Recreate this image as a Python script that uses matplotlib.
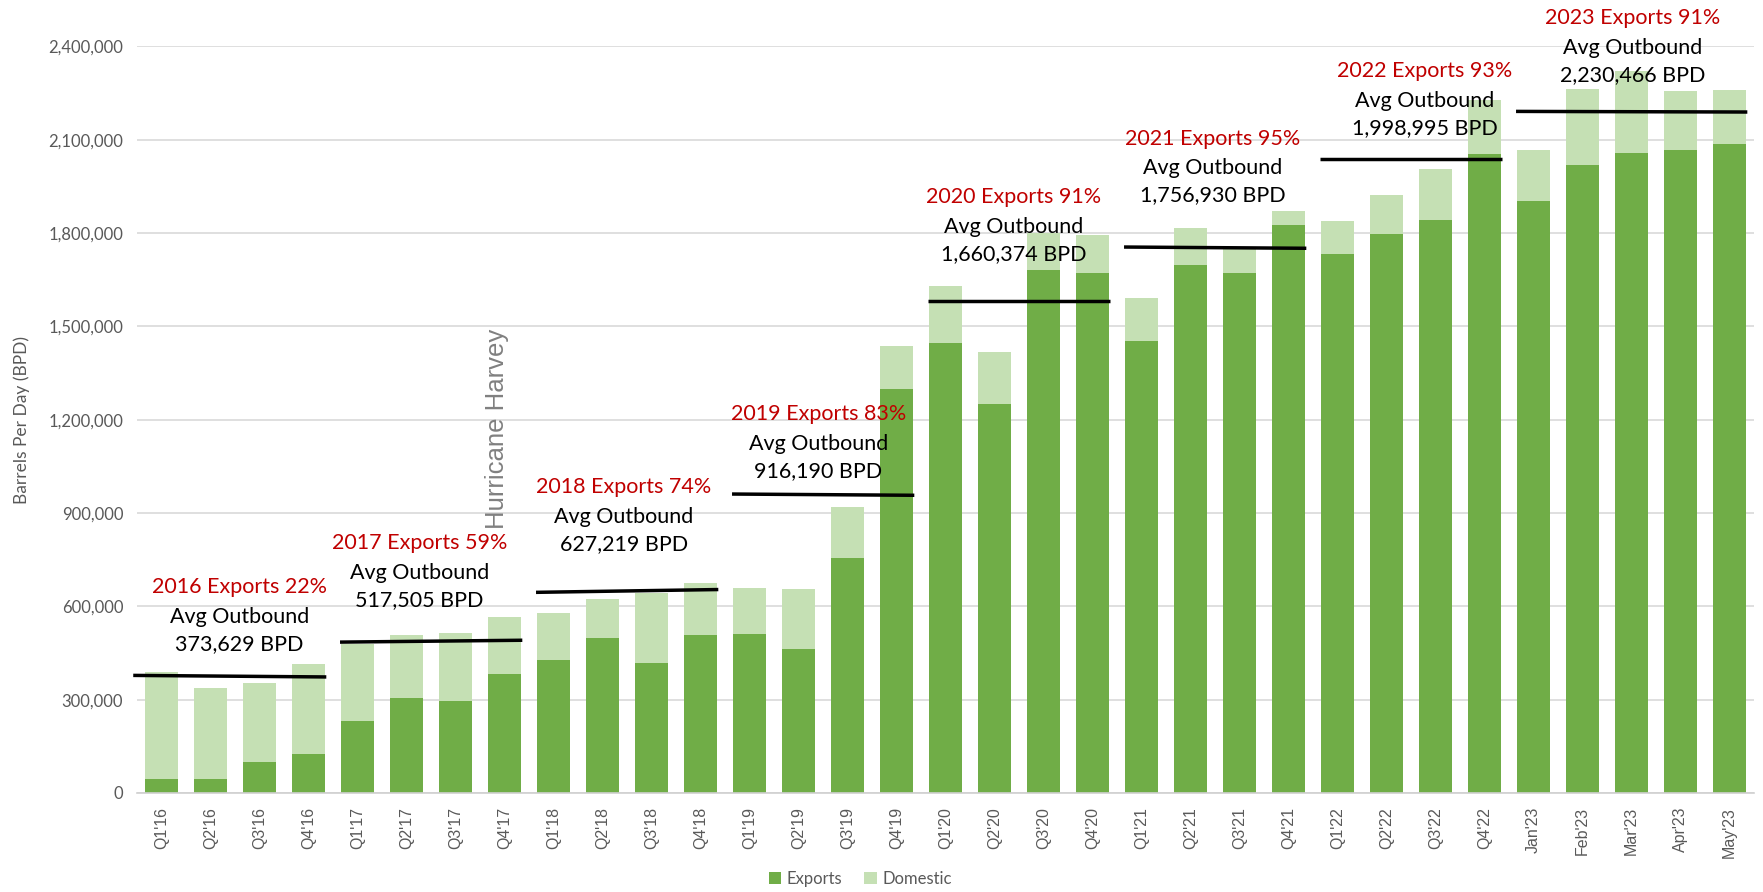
import matplotlib
matplotlib.use("Agg")
import matplotlib.pyplot as plt
from matplotlib.ticker import FuncFormatter, MultipleLocator

# categories and values (barrels per day)
periods = ["Q1'16", "Q2'16", "Q3'16", "Q4'16", "Q1'17", "Q2'17", "Q3'17", "Q4'17",
           "Q1'18", "Q2'18", "Q3'18", "Q4'18", "Q1'19", "Q2'19", "Q3'19", "Q4'19",
           "Q1'20", "Q2'20", "Q3'20", "Q4'20", "Q1'21", "Q2'21", "Q3'21", "Q4'21",
           "Q1'22", "Q2'22", "Q3'22", "Q4'22", "Jan'23", "Feb'23", "Mar'23", "Apr'23", "May'23"]
exports = [44000, 46000, 101000, 125000, 230000, 304000, 295000, 382000,
           427000, 498000, 418000, 507000, 510000, 464000, 754000, 1298000,
           1446000, 1250000, 1680000, 1672000, 1452000, 1696000, 1671000, 1826000,
           1733000, 1797000, 1841000, 2053000, 1903000, 2018000, 2057000, 2067000, 2085000]
totals = [390000, 336000, 354000, 416000, 480000, 507000, 514000, 567000,
          578000, 622000, 642000, 676000, 660000, 655000, 919000, 1436000,
          1629000, 1416000, 1800000, 1794000, 1591000, 1815000, 1750000, 1871000,
          1839000, 1922000, 2006000, 2228000, 2067000, 2262000, 2320000, 2257000, 2260000]
domestic = [t - e for t, e in zip(totals, exports)]

# yearly annotations
years = ["2016", "2017", "2018", "2019", "2020", "2021", "2022", "2023"]
export_share = ["22%", "59%", "74%", "83%", "91%", "95%", "93%", "91%"]
avg_outbound = ["373,629", "517,505", "627,219", "916,190", "1,660,374", "1,756,930", "1,998,995", "2,230,466"]
year_first = [0, 4, 8, 12, 16, 20, 24, 28]
year_last = [3, 7, 11, 15, 19, 23, 27, 32]
# average lines as drawn (start level, end level)
line_start = [378000, 485000, 645000, 961000, 1581000, 1755000, 2037000, 2191000]
line_end = [373000, 491000, 654000, 957000, 1581000, 1751000, 2037000, 2189000]
# label anchor (category x, value y of red line)
label_x = [1.59, 5.26, 9.43, 13.4, 17.38, 21.45, 25.77, 30.02]
label_y = [661000, 802000, 983000, 1218000, 1915000, 2103000, 2320000, 2490000]

EXP_COLOR = "#70AD47"
DOM_COLOR = "#C5E0B4"
TEXT_GREY = "#595959"
ANNOT_FONT = "Lato"

fig = plt.figure(figsize=(17.63, 8.92), dpi=100)
ax = fig.add_axes([0.0778, 0.111, 0.9172, 0.837])

x = list(range(len(periods)))
ax.bar(x, exports, width=0.68, color=EXP_COLOR, label="Exports", zorder=2)
ax.bar(x, domestic, width=0.68, bottom=exports, color=DOM_COLOR, label="Domestic", zorder=2)

ax.set_xlim(-0.5, len(periods) - 0.5)
ax.set_ylim(0, 2400000)
ax.yaxis.set_major_locator(MultipleLocator(300000))
ax.yaxis.set_major_formatter(FuncFormatter(lambda v, p: f"{v:,.0f}"))
ax.grid(axis="y", color="#D9D9D9", linewidth=1.2, zorder=0)
ax.set_axisbelow(True)
for s in ["top", "right", "left"]:
    ax.spines[s].set_visible(False)
ax.spines["bottom"].set_color("#D0D0D0")
ax.spines["bottom"].set_linewidth(1.2)
ax.tick_params(axis="both", length=0)
ax.tick_params(axis="y", labelsize=12, labelcolor=TEXT_GREY, pad=10)
for lab in ax.get_yticklabels():
    lab.set_family(ANNOT_FONT)

ax.set_xticks(x)
ax.set_xticklabels(periods, rotation=90, fontsize=11.5, color=TEXT_GREY,
                   family="Liberation Sans")
ax.tick_params(axis="x", pad=10)

ax.set_ylabel("Barrels Per Day (BPD)", fontsize=12.5, color=TEXT_GREY,
              family=ANNOT_FONT, labelpad=14)
ax.yaxis.set_label_coords(-0.066, 0.5)

# average lines and labels
for i in range(len(years)):
    x0 = year_first[i] - 0.36
    x1 = year_last[i] + 0.36
    if i == 0:
        x0 = year_first[i] - 0.58
    ax.plot([x0, x1], [line_start[i], line_end[i]], color="black", linewidth=2.5,
            zorder=4, clip_on=False, solid_capstyle="butt")
    ax.annotate(f"{years[i]} Exports {export_share[i]}", (label_x[i], label_y[i]),
                ha="center", va="center", fontsize=15.5, color="#C00000",
                family=ANNOT_FONT, annotation_clip=False, zorder=5)
    ax.annotate(f"Avg Outbound\n{avg_outbound[i]} BPD", (label_x[i], label_y[i]),
                xytext=(0, -14), textcoords="offset points",
                ha="center", va="top", fontsize=15.5, color="black",
                family=ANNOT_FONT, linespacing=1.45, annotation_clip=False, zorder=5)

ax.text(6.85, 850000, "Hurricane Harvey", rotation=90, ha="center", va="bottom",
        fontsize=18.5, color="#808080", family="Liberation Sans", zorder=5)

fig.legend(loc="center", bbox_to_anchor=(0.488, 0.0146), ncol=2, frameon=False,
           handlelength=0.75, handleheight=0.75, handletextpad=0.35, columnspacing=1.3,
           prop={"family": ANNOT_FONT, "size": 12}, labelcolor=TEXT_GREY)

fig.savefig("out.png", dpi=100, facecolor="white")
